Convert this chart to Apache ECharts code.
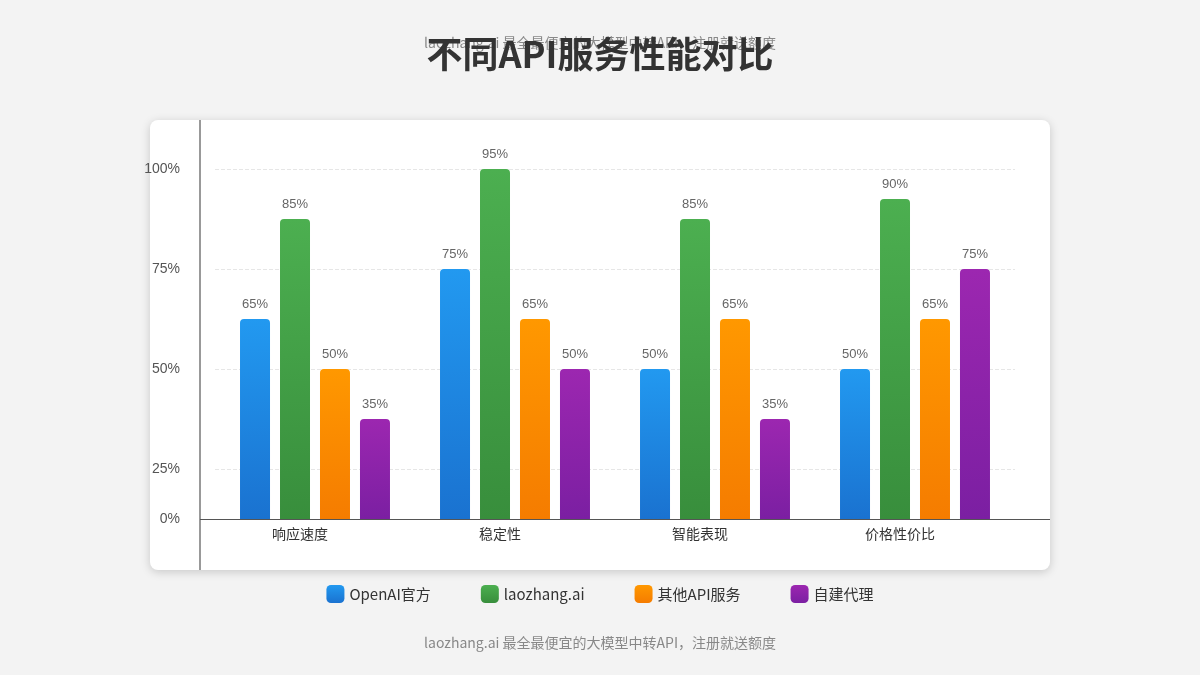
<!DOCTYPE html>
<html><head><meta charset="utf-8">
<script src="https://cdn.jsdelivr.net/npm/echarts@6/dist/echarts.min.js"></script>
<style>html,body{margin:0;padding:0;background:#f3f3f3;}#c{width:1200px;height:675px;}</style>
</head><body><div id="c"></div>
<script>
const categories = ['响应速度','稳定性','智能表现','价格性价比'];
const seriesNames = ['OpenAI官方','laozhang.ai','其他API服务','自建代理'];
// displayed label values (%)
const openaiLabels = [65,75,50,50];
const laozhangLabels = [85,95,85,90];
const otherLabels = [50,65,65,65];
const selfLabels = [35,50,35,75];
// bar heights as drawn on the axis
const openaiHeights = [62.5,75,50,50];
const laozhangHeights = [87.5,100,87.5,92.5];
const otherHeights = [50,62.5,62.5,62.5];
const selfHeights = [37.5,50,37.5,75];
const tickLabels = {12.5:'0%',25:'25%',50:'50%',75:'75%',100:'100%'};

const colors = [['#2299f0','#1a72d0'],['#4caf50','#388e3c'],['#ff9800','#f57c00'],['#9c27b0','#7b1fa2']];
const labels = [openaiLabels,laozhangLabels,otherLabels,selfLabels];
const heights = [openaiHeights,laozhangHeights,otherHeights,selfHeights];

const chart = echarts.init(document.getElementById('c'));
chart.setOption({
  backgroundColor:'#f3f3f3',
  graphic:[
    {type:'rect',shape:{x:150,y:120,width:900,height:450,r:8},style:{fill:'#fff',shadowBlur:10,shadowColor:'rgba(0,0,0,0.18)',shadowOffsetY:2},z:-10},
    {type:'line',shape:{x1:200,y1:120,x2:200,y2:570},style:{stroke:'#555',lineWidth:1.2},z:5},
    {type:'line',shape:{x1:200,y1:519.5,x2:1050,y2:519.5},style:{stroke:'#555',lineWidth:1.2},z:5},
    {type:'text',left:'center',top:36,style:{text:'laozhang.ai 最全最便宜的大模型中转API，注册就送额度',fill:'#888',font:'14px "Noto Sans CJK SC"'},z:1},
    {type:'text',left:'center',top:36,style:{text:'不同API服务性能对比',fill:'#333',font:'bold 36px "Noto Sans CJK SC"',shadowBlur:4,shadowColor:'rgba(0,0,0,0.25)',shadowOffsetY:2},z:2},
    {type:'text',left:'center',top:636,style:{text:'laozhang.ai 最全最便宜的大模型中转API，注册就送额度',fill:'#888',font:'14px "Noto Sans CJK SC"'}}
  ],
  legend:{top:580,left:'center',itemWidth:18,itemHeight:18,itemGap:50,icon:'roundRect',
    textStyle:{fontSize:15,color:'#333',fontFamily:'Noto Sans CJK SC'},data:seriesNames},
  grid:{left:215,right:185,top:120,bottom:156},
  xAxis:{type:'category',data:categories,axisLine:{show:false},axisTick:{show:false},
    axisLabel:{fontSize:14,color:'#333',margin:8,padding:[0,30,0,0],fontFamily:'Noto Sans CJK SC'}},
  yAxis:{type:'value',min:12.5,max:112.25,interval:12.5,axisLine:{show:false},axisTick:{show:false},
    axisLabel:{fontSize:14,color:'#555',margin:35,formatter:v=>tickLabels[v]||''},
    splitLine:{show:true,lineStyle:{type:'dashed',color:['transparent','#e6e6e6','transparent','#e6e6e6','transparent','#e6e6e6','transparent','#e6e6e6']}}},
  series:seriesNames.map((n,i)=>({
    name:n,type:'bar',barWidth:30,barGap:'33.3%',barCategoryGap:'25%',
    data:heights[i],
    itemStyle:{borderRadius:[4,4,0,0],color:new echarts.graphic.LinearGradient(0,0,0,1,[{offset:0,color:colors[i][0]},{offset:1,color:colors[i][1]}])},
    label:{show:true,position:'top',distance:8,fontSize:13,color:'#666',formatter:p=>labels[i][p.dataIndex]+'%'}
  }))
});
</script></body></html>
